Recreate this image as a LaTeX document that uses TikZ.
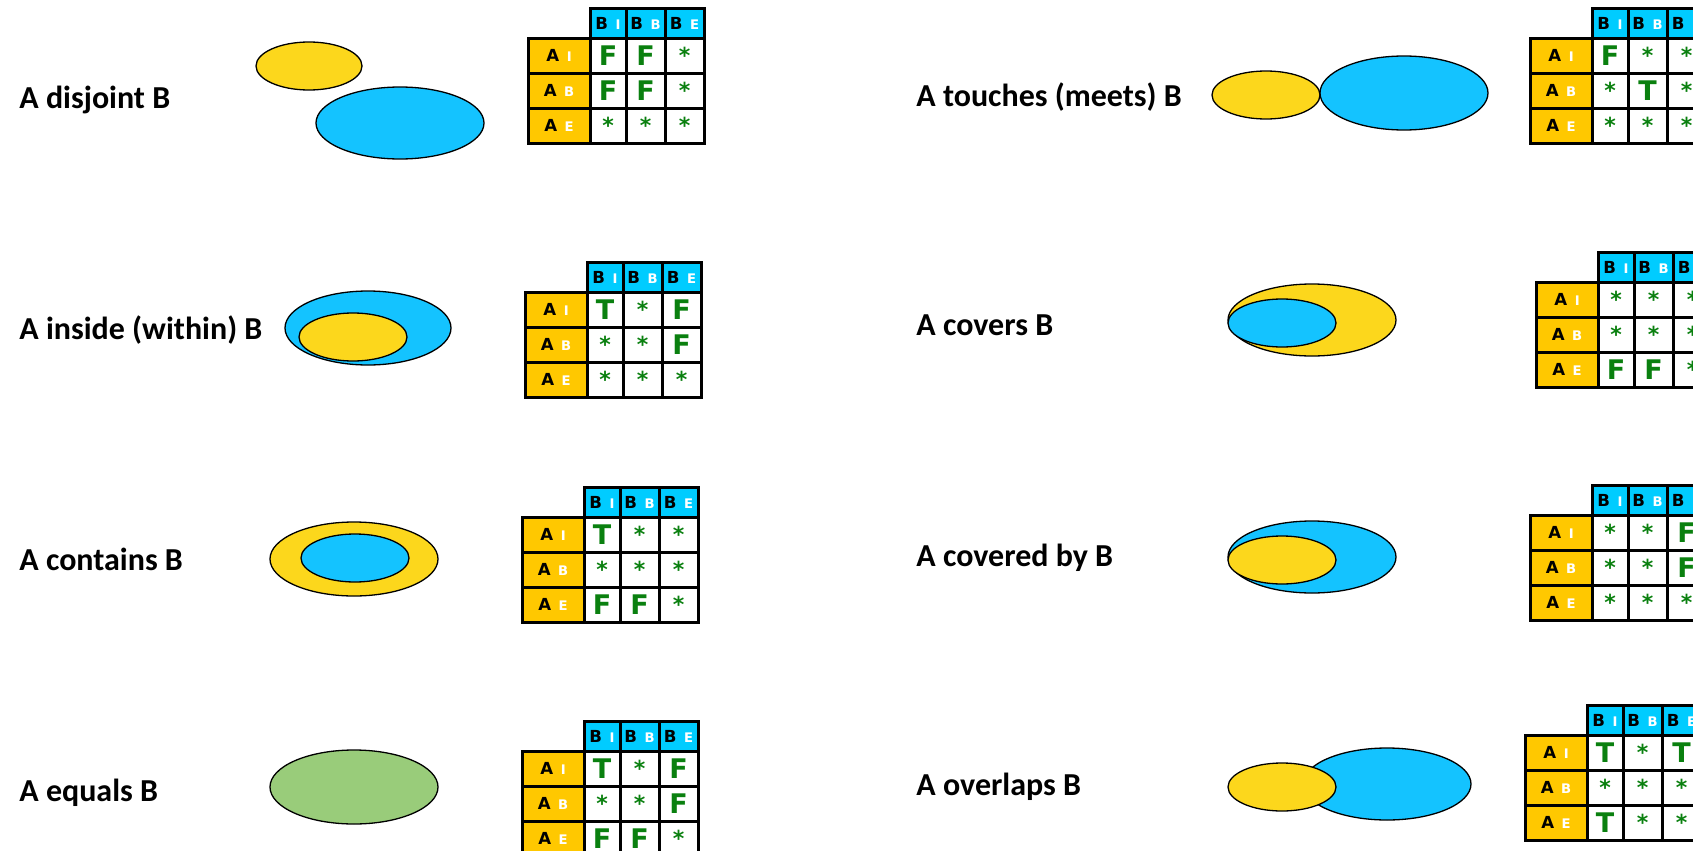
\documentclass[tikz,border=0pt]{standalone}
\usepackage{fontspec}
\setmainfont{Carlito}
\newfontfamily\mfont{DejaVu Sans}
\definecolor{eyel}{HTML}{FCD71C}
\definecolor{ayel}{HTML}{FFC800}
\definecolor{eblue}{HTML}{14C3FF}
\definecolor{hblue}{HTML}{00CCFF}
\definecolor{egreen}{HTML}{99CC7A}
\definecolor{tgreen}{HTML}{0A800F}
\newcommand\hl[2]{{\mfont\bfseries\fontsize{8.3}{9}\selectfont #1}\hspace{3.8pt}{\color{white}\mfont\bfseries\fontsize{6.6}{7}\selectfont #2}}
\newcommand\BV[1]{{\mfont\bfseries\fontsize{13.5}{14}\selectfont\color{tgreen}#1}}
\newcommand\SV{{\mfont\bfseries\fontsize{11}{12}\selectfont\color{tgreen}*}}
\tikzset{
  gridcell/.style={draw=black, line width=1.5pt, inner sep=0pt, rectangle},
  hcell/.style={gridcell, fill=hblue, minimum height=15pt},
  acell/.style={gridcell, fill=ayel, minimum height=17.5pt, minimum width=31pt},
  vcell/.style={gridcell, fill=white, minimum height=17.5pt},
  lbl/.style={anchor=base west, inner sep=0pt, font=\fontsize{16}{19}\selectfont\bfseries},
  ell/.style={draw=black, line width=0.65pt},
}
\newcommand\mtx[4]{%
\begin{scope}[shift={(#2,#3)}]
 \node[hcell, minimum width=18pt] (#1h1) at (18,15) {\hl{B}{I}};
 \node[hcell, minimum width=19.5pt] (#1h2) at (55.5,15) {\hl{B}{B}};
 \node[hcell, minimum width=19.5pt] (#1h3) at (94.5,15) {\hl{B}{E}};
 \node[acell] (#1a1) at (-31,47.5) {\hl{A}{I}};
 \node[acell] (#1a2) at (-31,82.5) {\hl{A}{B}};
 \node[acell] (#1a3) at (-31,117.5) {\hl{A}{E}};
 \foreach \v [count=\i from 0] in {#4} {
   \pgfmathtruncatemacro\mr{\i/3}
   \pgfmathtruncatemacro\mc{mod(\i,3)}
   \pgfmathsetmacro\cx{\mc==0 ? 18 : (\mc==1 ? 55.5 : 94.5)}
   \pgfmathsetmacro\cw{\mc==0 ? 18 : 19.5}
   \node[vcell, minimum width=\cw pt] (#1v\mr\mc) at (\cx, 47.5+35*\mr) {\v};
 }
\end{scope}}
\begin{document}
\begin{tikzpicture}[x=0.5pt,y=-0.5pt]
\useasboundingbox (0,0) rectangle (1693,851);
% labels
\node[lbl] (l1) at (19,108) {A disjoint B};
\node[lbl] (l2) at (19,339) {A inside (within) B};
\node[lbl] (l3) at (19,570) {A contains B};
\node[lbl] (l4) at (19,801) {A equals B};
\node[lbl] (l5) at (916,106) {A touches (meets) B};
\node[lbl] (l6) at (916,335) {A covers B};
\node[lbl] (l7) at (916,566) {A covered by B};
\node[lbl] (l8) at (916,795) {A overlaps B};
% ellipses
\filldraw[ell, fill=eyel] (309,66) ellipse [x radius=26.5pt, y radius=12pt];
\filldraw[ell, fill=eblue] (400,123) ellipse [x radius=42pt, y radius=18pt];
\filldraw[ell, fill=eyel] (1266,95) ellipse [x radius=27pt, y radius=12pt];
\filldraw[ell, fill=eblue] (1404,93) ellipse [x radius=42pt, y radius=18.5pt];
\filldraw[ell, fill=eblue] (368,328) ellipse [x radius=41.5pt, y radius=18.5pt];
\filldraw[ell, fill=eyel] (353,337) ellipse [x radius=27pt, y radius=12pt];
\filldraw[ell, fill=eyel] (1312,320) ellipse [x radius=42pt, y radius=18pt];
\filldraw[ell, fill=eblue] (1282,323) ellipse [x radius=27pt, y radius=12pt];
\filldraw[ell, fill=eyel] (354,559) ellipse [x radius=42pt, y radius=18.5pt];
\filldraw[ell, fill=eblue] (355,558) ellipse [x radius=27pt, y radius=12pt];
\filldraw[ell, fill=eblue] (1312,557) ellipse [x radius=42pt, y radius=18pt];
\filldraw[ell, fill=eyel] (1282,560) ellipse [x radius=27pt, y radius=12pt];
\filldraw[ell, fill=egreen] (354,787) ellipse [x radius=42pt, y radius=18.5pt];
\filldraw[ell, fill=eblue] (1387,784) ellipse [x radius=42pt, y radius=18pt];
\filldraw[ell, fill=eyel] (1282,787) ellipse [x radius=27pt, y radius=12pt];
% matrices
\mtx{m1}{590}{8}{\BV F,\BV F,\SV,\BV F,\BV F,\SV,\SV,\SV,\SV}
\mtx{m2}{587}{262}{\BV T,\SV,\BV F,\SV,\SV,\BV F,\SV,\SV,\SV}
\mtx{m3}{584}{487}{\BV T,\SV,\SV,\SV,\SV,\SV,\BV F,\BV F,\SV}
\mtx{m4}{584}{721}{\BV T,\SV,\BV F,\SV,\SV,\BV F,\BV F,\BV F,\SV}
\mtx{m5}{1592}{8}{\BV F,\SV,\SV,\SV,\BV T,\SV,\SV,\SV,\SV}
\mtx{m6}{1598}{252}{\SV,\SV,\SV,\SV,\SV,\SV,\BV F,\BV F,\SV}
\mtx{m7}{1592}{485}{\SV,\SV,\BV F,\SV,\SV,\BV F,\SV,\SV,\SV}
\mtx{m8}{1587}{705}{\BV T,\SV,\BV T,\SV,\SV,\SV,\BV T,\SV,\SV}
\end{tikzpicture}
\end{document}
